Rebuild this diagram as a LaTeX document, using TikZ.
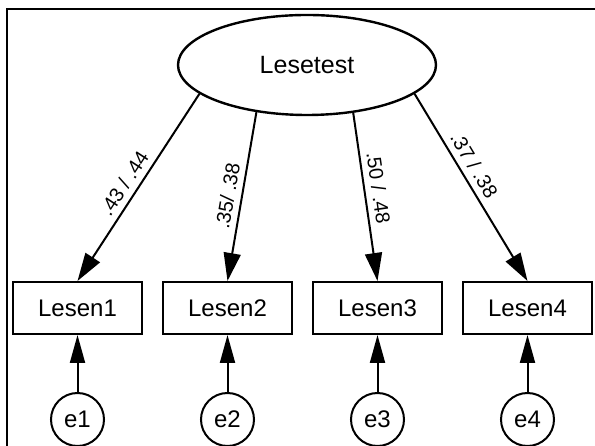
\documentclass[tikz,border=0pt]{standalone}
\usepackage{fontspec}
\setmainfont{Liberation Sans}
\usetikzlibrary{arrows.meta,shapes.geometric}

\tikzset{
  latent/.style={ellipse, draw, line width=2.4pt, minimum width=258pt,
    minimum height=100pt, inner sep=0pt, font=\fontsize{25}{30}\selectfont},
  manifest/.style={rectangle, draw, line width=2pt, minimum width=129pt,
    minimum height=52pt, inner sep=0pt, font=\fontsize{24}{28}\selectfont},
  errvar/.style={circle, draw, line width=2pt, minimum size=53pt,
    inner sep=0pt, font=\fontsize{24}{28}\selectfont},
  path arrow/.style={line width=2pt, -{Triangle[length=28pt, width=17pt]}},
  err arrow/.style={line width=2pt, -{Triangle[length=28pt, width=15pt]}},
  loading/.style={sloped, above=5pt, inner sep=1pt,
    font=\fontsize{20}{24}\selectfont},
  frame/.style={line width=1.6pt}
}

\begin{document}
\begin{tikzpicture}[x=1pt, y=1pt]
  \useasboundingbox (0,0) rectangle (595,446);

  % outer frame (top and left edges)
  \coordinate (fbl) at (7,0);
  \coordinate (ftl) at (7,437);
  \coordinate (ftr) at (595,437);
  \draw[frame] (fbl) -- (ftl) -- (ftr);

  % latent factor
  \node[latent] (L) at (307,381) {Lesetest};

  % indicators
  \node[manifest] (x1) at (77.5,138)  {Lesen1};
  \node[manifest] (x2) at (227.5,138) {Lesen2};
  \node[manifest] (x3) at (377.5,138) {Lesen3};
  \node[manifest] (x4) at (527.5,138) {Lesen4};

  % residuals
  \node[errvar] (e1) at (77.5,26.5)  {e1};
  \node[errvar] (e2) at (227.5,26.5) {e2};
  \node[errvar] (e3) at (377.5,26.5) {e3};
  \node[errvar] (e4) at (527.5,26.5) {e4};

  % factor loadings
  \draw[path arrow] (L.195) -- node[loading, pos=0.52] {.43 / .44} (x1.north);
  \draw[path arrow] (L.223) -- node[loading, pos=0.51] {.35/ .38} (x2.north);
  \draw[path arrow] (L.314) -- node[loading, pos=0.46] {.50 / .48} (x3.north);
  \draw[path arrow] (L.345) -- node[loading, pos=0.42] {.37 / .38} (x4.north);

  % residual paths
  \draw[err arrow] (e1.north) -- (x1.south);
  \draw[err arrow] (e2.north) -- (x2.south);
  \draw[err arrow] (e3.north) -- (x3.south);
  \draw[err arrow] (e4.north) -- (x4.south);
\end{tikzpicture}
\end{document}
